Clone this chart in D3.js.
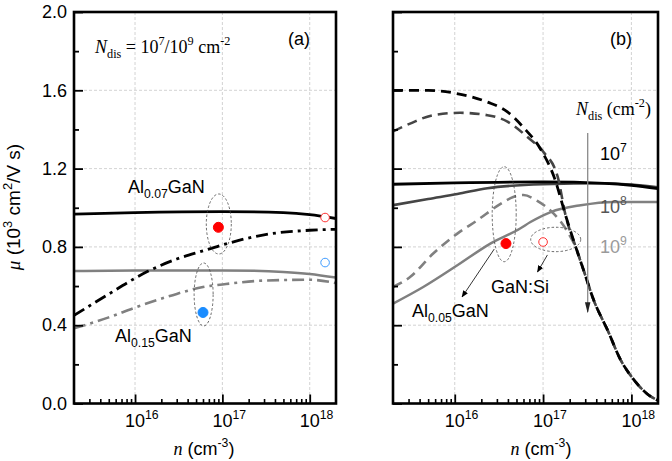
<!DOCTYPE html>
<html>
<head>
<meta charset="utf-8">
<script src="https://cdn.jsdelivr.net/npm/d3@7"></script>
<style>
body { margin: 0; background: #fff; }
svg { display: block; }
</style>
</head>
<body>
<script>
// ---- data: [n (cm^-3), mu (10^3 cm^2/V s)] ----
// panel (a)
const al07Solid = [[2e15,0.967],[1e16,0.975],[1e17,0.98],[5e17,0.975],[1e18,0.965],[2e18,0.945]];
const al07DashDot = [[2e15,0.45],[5e15,0.559],[1e16,0.64],[1.4e16,0.675],[3e16,0.738],[6e16,0.78],[1e17,0.81],[3e17,0.862],[1e18,0.885],[2e18,0.89]];
const al15Solid = [[2e15,0.677],[1e16,0.68],[1e17,0.68],[5e17,0.672],[1e18,0.662],[2e18,0.643]];
const al15DashDot = [[2e15,0.384],[5e15,0.44],[1e16,0.49],[3e16,0.56],[6e16,0.595],[1e17,0.608],[3e17,0.628],[1e18,0.632],[2e18,0.615]];
const expA = [[9.0e16,0.90],[1.5e18,0.95],[6.0e16,0.465],[1.5e18,0.72]];

// panel (b)
const b7Solid = [[2e15,1.12],[1e16,1.127],[1e17,1.132],[5e17,1.125],[1e18,1.115],[2e18,1.098]];
const b8Solid = [[2e15,1.013],[5e15,1.045],[1.07e16,1.07],[2.34e16,1.10],[1e17,1.12],[5e17,1.125],[1e18,1.118],[2e18,1.105]];
const b9Solid = [[2e15,0.51],[4.4e15,0.595],[1.07e16,0.706],[2.53e16,0.817],[5.5e16,0.894],[7.2e16,0.927],[1.22e17,0.978],[2.67e17,1.013],[6.3e17,1.03],[2e18,1.03]];
const b7Dash = [[2e15,1.60],[5e15,1.60],[1.01e16,1.585],[2.34e16,1.54],[3.95e16,1.49],[6e16,1.41],[9.35e16,1.30],[1.35e17,1.15],[1.8e17,0.96],[2.34e17,0.80],[2.88e17,0.68],[3.75e17,0.527],[5.4e17,0.373],[7.6e17,0.22],[1.01e18,0.135],[1.5e18,0.05],[2e18,0.015]];
const b8Dash = [[2e15,1.39],[3.12e15,1.43],[5.7e15,1.473],[1.15e16,1.485],[2.34e16,1.473],[3.95e16,1.44],[6.7e16,1.36],[1.01e17,1.285],[1.46e17,1.16],[1.8e17,0.96],[2.34e17,0.80],[2.88e17,0.68],[3.75e17,0.527],[5.4e17,0.373],[7.6e17,0.22],[1.01e18,0.135],[1.5e18,0.05],[2e18,0.015]];
const b9Dash = [[2e15,0.595],[3.12e15,0.646],[5.7e15,0.766],[1.07e16,0.868],[1.8e16,0.936],[3.3e16,1.02],[4.6e16,1.055],[6e16,1.065],[8.6e16,1.035],[1.32e17,0.97],[1.58e17,0.93],[2.05e17,0.85],[2.34e17,0.80],[2.88e17,0.68],[3.75e17,0.527],[5.4e17,0.373],[7.6e17,0.22],[1.01e18,0.135],[1.5e18,0.05],[2e18,0.015]];
const expB = [[3.8e16,0.817],[1e17,0.825]];

// axes
const xDomain = [2e15, 2e18];
const xMajor = [1e16, 1e17, 1e18];
const xMinor = [3e15,4e15,5e15,6e15,7e15,8e15,9e15,2e16,3e16,4e16,5e16,6e16,7e16,8e16,9e16,2e17,3e17,4e17,5e17,6e17,7e17,8e17,9e17];
const yMajor = [0, 0.4, 0.8, 1.2, 1.6, 2.0];
const yMinor = [0.2, 0.6, 1.0, 1.4, 1.8];

const W = 672, H = 461;
const plotTop = 12, plotBottom = 403.5;
const sans = "'Liberation Sans', Arial, sans-serif";
const serif = "'Liberation Serif', 'Times New Roman', serif";
const grey = '#808080', dark = '#454545';
const fs = 18;

const svg = d3.select('body').append('svg')
	.attr('width', W)
	.attr('height', H)
	.attr('font-family', sans);

const defs = svg.append('defs');
defs.append('marker')
	.attr('id', 'head')
	.attr('viewBox', '0 0 10 10')
	.attr('refX', 9).attr('refY', 5)
	.attr('markerWidth', 7).attr('markerHeight', 7)
	.attr('markerUnits', 'userSpaceOnUse')
	.attr('orient', 'auto')
	.append('path').attr('d', 'M0,1 L10,5 L0,9 z').attr('fill', '#000');
defs.append('marker')
	.attr('id', 'bighead')
	.attr('viewBox', '0 0 10 10')
	.attr('refX', 9).attr('refY', 5)
	.attr('markerWidth', 11).attr('markerHeight', 11)
	.attr('markerUnits', 'userSpaceOnUse')
	.attr('orient', 'auto')
	.append('path').attr('d', 'M0,2.5 L10,5 L0,7.5 z').attr('fill', '#222');

// text with sub/superscripts; parts = [[text, kind], ...]
function rich(g, x, y, parts, size, family, anchor) {
	const t = g.append('text')
		.attr('x', x).attr('y', y)
		.attr('font-size', size)
		.attr('font-family', family || sans)
		.attr('text-anchor', anchor || 'start');
	let shift = 0;
	parts.forEach(([s, kind]) => {
		let target = 0, f = size;
		if (kind === 'sub' || kind === 'isub') { target = size * 0.3; f = size * 0.68; }
		if (kind === 'sup') { target = -size * 0.42; f = size * 0.68; }
		const ts = t.append('tspan')
			.attr('dy', target - shift)
			.attr('font-size', f)
			.text(s);
		if (kind === 'it') ts.attr('font-style', 'italic').attr('font-family', serif);
		if (kind === 'isub') ts.attr('font-family', serif);
		shift = target;
	});
	return t;
}

function panel(x0, x1, id) {
	const x = d3.scaleLog().domain(xDomain).range([x0, x1]);
	const y = d3.scaleLinear().domain([0, 2]).range([plotBottom, plotTop]);
	const g = svg.append('g');

	defs.append('clipPath').attr('id', id)
		.append('rect').attr('x', x0).attr('y', plotTop).attr('width', x1 - x0).attr('height', plotBottom - plotTop);

	// grid
	g.append('g').selectAll('line').data(xMajor).join('line')
		.attr('x1', d => x(d)).attr('x2', d => x(d))
		.attr('y1', plotTop).attr('y2', plotBottom)
		.attr('stroke', '#c8c8c8').attr('stroke-width', 0.8).attr('stroke-dasharray', '3,2');
	g.append('g').selectAll('line').data(yMajor.slice(1, -1)).join('line')
		.attr('x1', x0).attr('x2', x1)
		.attr('y1', d => y(d)).attr('y2', d => y(d))
		.attr('stroke', '#c8c8c8').attr('stroke-width', 0.8).attr('stroke-dasharray', '3,2');

	const plot = g.append('g').attr('clip-path', `url(#${id})`);
	const line = d3.line().x(d => x(d[0])).y(d => y(d[1])).curve(d3.curveMonotoneX);
	return {x, y, g, plot, line, x0, x1};
}

function axes(p, showYLabels) {
	const {x, y, g, x0, x1} = p;
	// x ticks inward
	g.append('g').attr('transform', `translate(0,${plotBottom})`)
		.call(d3.axisBottom(x).tickValues(xMinor).tickSize(-4.5).tickFormat(''))
		.call(a => a.select('.domain').remove())
		.call(a => a.selectAll('.tick line').attr('stroke-width', 1.6));
	g.append('g').attr('transform', `translate(0,${plotBottom})`)
		.call(d3.axisBottom(x).tickValues(xMajor).tickSize(-9).tickFormat(''))
		.call(a => a.select('.domain').remove())
		.call(a => a.selectAll('.tick line').attr('stroke-width', 1.8));
	xMajor.forEach(v => {
		rich(g, x(v) - 10, 427, [['10', ''], [String(Math.round(Math.log10(v))), 'sup']], fs);
	});
	// y ticks inward
	g.append('g').attr('transform', `translate(${x0},0)`)
		.call(d3.axisLeft(y).tickValues(yMinor).tickSize(-5).tickFormat(''))
		.call(a => a.select('.domain').remove())
		.call(a => a.selectAll('.tick line').attr('stroke-width', 1.8));
	const ya = g.append('g').attr('transform', `translate(${x0},0)`)
		.call(d3.axisLeft(y).tickValues(yMajor).tickSize(-9).tickPadding(7)
			.tickFormat(showYLabels ? d3.format('.1f') : ''))
		.call(a => a.select('.domain').remove())
		.call(a => a.selectAll('.tick line').attr('stroke-width', 1.8));
	ya.attr('font-family', sans).attr('font-size', fs);
	ya.selectAll('.tick text').attr('fill', '#000');
	// frame
	g.append('rect')
		.attr('x', x0).attr('y', plotTop)
		.attr('width', x1 - x0).attr('height', plotBottom - plotTop)
		.attr('fill', 'none').attr('stroke', '#000').attr('stroke-width', 2.6);
}

function curve(p, data, color, width, dash) {
	p.plot.append('path')
		.datum(data)
		.attr('d', p.line)
		.attr('fill', 'none')
		.attr('stroke', color)
		.attr('stroke-width', width)
		.attr('stroke-dasharray', dash || null);
}

function ellipse(p, n, mu, rx, ry) {
	p.g.append('ellipse')
		.attr('cx', p.x(n)).attr('cy', p.y(mu))
		.attr('rx', rx).attr('ry', ry)
		.attr('fill', 'none').attr('stroke', '#444')
		.attr('stroke-width', 0.8).attr('stroke-dasharray', '2.5,2');
}

function arrow(p, a, b, marker, color, width) {
	p.g.append('line')
		.attr('x1', p.x(a[0])).attr('y1', p.y(a[1]))
		.attr('x2', p.x(b[0])).attr('y2', p.y(b[1]))
		.attr('stroke', color).attr('stroke-width', width)
		.attr('marker-end', `url(#${marker})`);
}

const dashDot = '12,5,3,5';
const dashed = '10,6';

// ---------- panel (a) ----------
const pa = panel(74, 336, 'clipA');
curve(pa, al15Solid, grey, 2.5);
curve(pa, al15DashDot, grey, 2.6, dashDot);
curve(pa, al07Solid, '#000', 2.8);
curve(pa, al07DashDot, '#000', 2.8, dashDot);

ellipse(pa, 9.1e16, 0.917, 12.5, 30);
ellipse(pa, 6.1e16, 0.557, 9.5, 31.5);

const expAStyle = [
	{fill: '#ff0000', stroke: '#ff0000'},
	{fill: '#fff', stroke: '#ff3030'},
	{fill: '#1a8cff', stroke: '#1a8cff'},
	{fill: '#fff', stroke: '#3d9bff'}
];
pa.g.append('g').selectAll('circle').data(expA).join('circle')
	.attr('cx', d => pa.x(d[0])).attr('cy', d => pa.y(d[1]))
	.attr('r', (d, i) => expAStyle[i].fill === '#fff' ? 4.3 : 5)
	.attr('fill', (d, i) => expAStyle[i].fill)
	.attr('stroke', (d, i) => expAStyle[i].stroke)
	.attr('stroke-width', 1);

axes(pa, true);

rich(svg, 95, 53, [['N', 'it'], ['dis', 'isub'], [' = 10', ''], ['7', 'sup'], ['/10', ''], ['9', 'sup'], [' cm', ''], ['-2', 'sup']], 18, serif);
svg.append('text').attr('x', 288).attr('y', 45).attr('font-size', fs).text('(a)');
rich(svg, 128, 193, [['Al', ''], ['0.07', 'sub'], ['GaN', '']], fs);
rich(svg, 115, 342, [['Al', ''], ['0.15', 'sub'], ['GaN', '']], fs);

// ---------- panel (b) ----------
const pb = panel(393, 658, 'clipB');
curve(pb, b9Solid, grey, 2.5);
curve(pb, b8Solid, dark, 2.6);
curve(pb, b7Solid, '#000', 2.8);
curve(pb, b9Dash, grey, 2.6, dashed);
curve(pb, b8Dash, dark, 2.6, dashed);
curve(pb, b7Dash, '#000', 2.8, dashed);

ellipse(pb, 3.63e16, 0.967, 12, 47.5);
ellipse(pb, 1.39e17, 0.838, 25, 12.2);
arrow(pb, [2.8e16, 0.789], [1.21e16, 0.544], 'head', '#000', 0.8);
arrow(pb, [1.12e17, 0.759], [8.65e16, 0.672], 'head', '#000', 0.8);

const expBStyle = [
	{fill: '#ff0000', stroke: '#ff0000'},
	{fill: '#fff', stroke: '#ff3030'}
];
pb.g.append('g').selectAll('circle').data(expB).join('circle')
	.attr('cx', d => pb.x(d[0])).attr('cy', d => pb.y(d[1]))
	.attr('r', (d, i) => expBStyle[i].fill === '#fff' ? 4.3 : 5)
	.attr('fill', (d, i) => expBStyle[i].fill)
	.attr('stroke', (d, i) => expBStyle[i].stroke)
	.attr('stroke-width', 1);

// legend arrow for N_dis
arrow(pb, [3.2e17, 1.382], [3.2e17, 0.467], 'bighead', '#8a8a8a', 1.3);

axes(pb, false);

svg.append('text').attr('x', 610).attr('y', 45).attr('font-size', fs).text('(b)');
rich(svg, 576, 115, [['N', 'it'], ['dis', 'isub'], [' (cm', ''], ['-2', 'sup'], [')', '']], 18, serif);
rich(svg, 600, 160, [['10', ''], ['7', 'sup']], fs).attr('fill', '#000');
rich(svg, 600, 213, [['10', ''], ['8', 'sup']], fs).attr('fill', '#555');
rich(svg, 600, 253, [['10', ''], ['9', 'sup']], fs).attr('fill', '#9a9a9a');
rich(svg, 491, 293, [['GaN:Si', '']], fs);
rich(svg, 412, 317, [['Al', ''], ['0.05', 'sub'], ['GaN', '']], fs);

// ---------- axis titles ----------
rich(svg, 0, 0, [['\u03bc', 'it'], [' (10', ''], ['3', 'sup'], [' cm', ''], ['2', 'sup'], ['/V s)', '']], 19, sans, 'middle')
	.attr('transform', 'translate(20,207) rotate(-90)');
rich(svg, 204, 455, [['n', 'it'], [' (cm', ''], ['-3', 'sup'], [')', '']], fs, sans, 'middle');
rich(svg, 541, 455, [['n', 'it'], [' (cm', ''], ['-3', 'sup'], [')', '']], fs, sans, 'middle');
</script>
</body>
</html>
